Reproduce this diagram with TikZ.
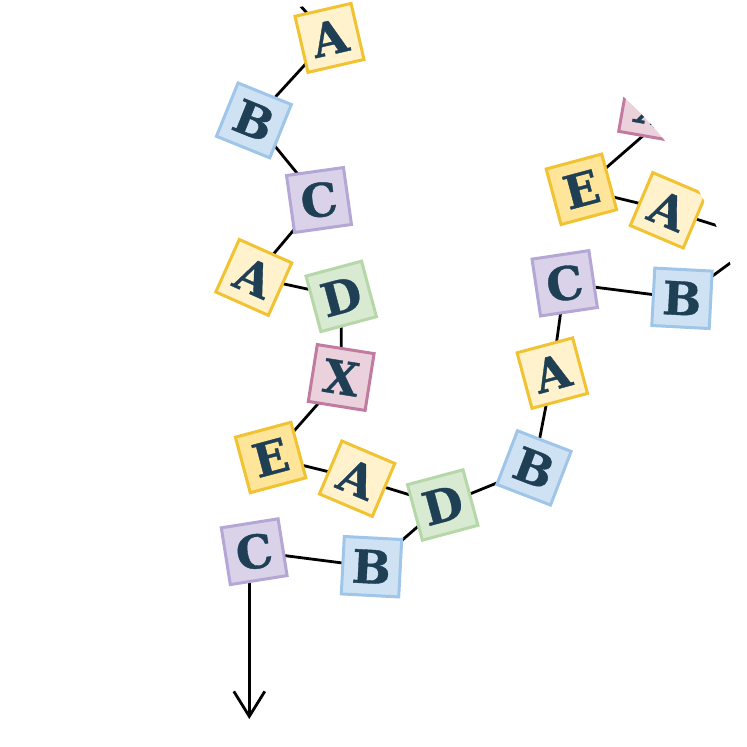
\documentclass[tikz,border=0pt]{standalone}
\usepackage{fontspec}
\setmainfont{DejaVu Serif}
\newfontfamily\blk[FakeBold=0.8]{DejaVu Serif Bold}
\usetikzlibrary{arrows.meta}
\definecolor{txt}{HTML}{1F3F55}
\definecolor{yfill}{HTML}{FFF2CC}
\definecolor{efill}{HTML}{FFE599}
\definecolor{ydraw}{HTML}{F1C232}
\definecolor{bfill}{HTML}{CFE2F3}
\definecolor{bdraw}{HTML}{9FC5E8}
\definecolor{cfill}{HTML}{D9D2E9}
\definecolor{cdraw}{HTML}{B4A7D6}
\definecolor{dfill}{HTML}{D9EAD3}
\definecolor{ddraw}{HTML}{B6D7A8}
\definecolor{xfill}{HTML}{EAD1DC}
\definecolor{xdraw}{HTML}{C27BA0}
\tikzset{
  block/.style={draw, line width=3pt, minimum size=57.5pt, inner sep=0pt,
    text=txt, font=\blk\fontsize{46}{46}\selectfont},
  ablock/.style={block, fill=yfill, draw=ydraw},
  eblock/.style={block, fill=efill, draw=ydraw},
  bblock/.style={block, fill=bfill, draw=bdraw},
  cblock/.style={block, fill=cfill, draw=cdraw},
  dblock/.style={block, fill=dfill, draw=ddraw},
  xblock/.style={block, fill=xfill, draw=xdraw},
  link/.style={draw=black, line width=2.8pt},
}
\begin{document}
\begin{tikzpicture}[x=1pt,y=-1pt]
\useasboundingbox (0,0) rectangle (747,747);
\begin{scope}
\clip (372,375) circle[radius=375pt];
% block centres
\coordinate (A1) at (329.5,37.9);
\coordinate (B2) at (253.9,120.4);
\coordinate (C3) at (319,200);
\coordinate (A4) at (253.8,277.4);
\coordinate (D5) at (341.2,296.4);
\coordinate (X6) at (341.2,377.5);
\coordinate (E7) at (270.6,457.5);
\coordinate (A8) at (357.1,478.7);
\coordinate (D9) at (442.7,505);
\coordinate (B10) at (534,467.9);
\coordinate (A11) at (552.3,373.1);
\coordinate (C12) at (564.7,283.3);
\coordinate (B13) at (682,298.3);
\coordinate (E14) at (581.4,189.3);
\coordinate (A15) at (668,210.3);
\coordinate (X16) at (652,108);
\coordinate (C17) at (254.2,551.7);
\coordinate (B18) at (371.5,566.7);
\coordinate (o1) at (273,-24.5);
\coordinate (o2) at (778,228);
\coordinate (o3) at (762,239.7);
\coordinate (x16l) at (690,95);
\coordinate (ae) at (249.3,719);
% connectors
\draw[link] (o1) -- (A1) -- (B2) -- (C3) -- (A4) -- (D5) -- (X6) -- (E7)
  -- (A8) -- (D9) -- (B10) -- (A11) -- (C12) -- (B13) -- (o2);
\draw[link] (D9) -- (B18) -- (C17);
\draw[link] (x16l) -- (E14) -- (A15) -- (o3);
\draw[link, -{Straight Barb[length=25pt,width=31pt]}] (C17 -| ae) -- (ae);
% blocks
\node[ablock, rotate=13] (nA1) at (A1) {A};
\node[bblock, rotate=-22] (nB2) at (B2) {B};
\node[cblock, rotate=8] (nC3) at (C3) {C};
\node[ablock, rotate=-24] (nA4) at (A4) {A};
\node[dblock, rotate=15] (nD5) at (D5) {D};
\node[xblock, rotate=-9] (nX6) at (X6) {X};
\node[eblock, rotate=15] (nE7) at (E7) {E};
\node[ablock, rotate=-23] (nA8) at (A8) {A};
\node[dblock, rotate=15] (nD9) at (D9) {D};
\node[bblock, rotate=-21] (nB10) at (B10) {B};
\node[ablock, rotate=15] (nA11) at (A11) {A};
\node[cblock, rotate=8.5] (nC12) at (C12) {C};
\node[bblock, rotate=-3] (nB13) at (B13) {B};
\node[eblock, rotate=15] (nE14) at (E14) {E};
\node[ablock, rotate=-23] (nA15) at (A15) {A};
\node[xblock, rotate=-10] (nX16) at (X16) {X};
\node[cblock, rotate=9] (nC17) at (C17) {C};
\node[bblock, rotate=-3] (nB18) at (B18) {B};
\end{scope}
\end{tikzpicture}
\end{document}
